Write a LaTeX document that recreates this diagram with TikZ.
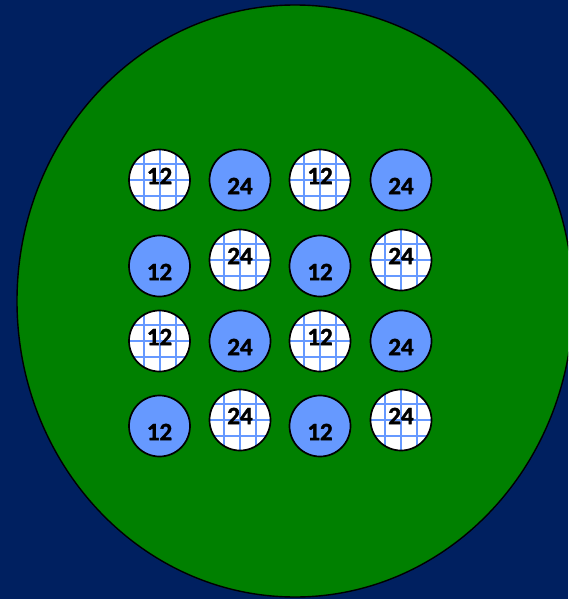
\documentclass[tikz,border=0pt]{standalone}
\usepackage{fontspec}
\setmainfont{Carlito}
\newfontfamily\pinfont{Carlito}[BoldFeatures={FakeBold=1.5}]
\usepackage{xcolor}
\definecolor{navy}{HTML}{002060}
\definecolor{field}{HTML}{008000}
\definecolor{pinblue}{HTML}{6699FF}

\begin{document}
\begin{tikzpicture}[
x=1pt,y=-1pt,
pin/.style={circle,draw=black,line width=1.7pt,minimum size=61pt,inner sep=0pt},
solidpin/.style={pin,fill=pinblue},
gridpin/.style={pin,fill=white,path picture={
  \foreach \d in {-32,-16,0,16,32}{
    \draw[pinblue,line width=2pt] ([xshift=\d pt,yshift=-40pt]path picture bounding box.center) -- ++(0,80pt);
    \draw[pinblue,line width=2pt] ([yshift=\d pt,xshift=-40pt]path picture bounding box.center) -- ++(80pt,0);
  }}},
num/.style={font=\pinfont\bfseries\fontsize{25}{25}\selectfont,text=black,inner sep=0pt}
]
\clip (0,0) rectangle (568,599);
\fill[navy] (0,0) rectangle (568,599);
\draw[fill=field,line width=1.4pt] (295,301) ellipse [x radius=278,y radius=296];

% row 1
\node[gridpin,label={[num,yshift=4pt]center:12}] (p11) at (159.5,180) {};
\node[solidpin,label={[num,yshift=-6pt]center:24}] (p12) at (240,180) {};
\node[gridpin,label={[num,yshift=4pt]center:12}] (p13) at (320,180) {};
\node[solidpin,label={[num,yshift=-6pt]center:24}] (p14) at (401,180) {};
% row 2
\node[solidpin,label={[num,yshift=-6pt]center:12}] (p21) at (159.5,266) {};
\node[gridpin,label={[num,yshift=4pt]center:24}] (p22) at (240,260) {};
\node[solidpin,label={[num,yshift=-6pt]center:12}] (p23) at (320,266) {};
\node[gridpin,label={[num,yshift=4pt]center:24}] (p24) at (401,260) {};
% row 3
\node[gridpin,label={[num,yshift=4pt]center:12}] (p31) at (159.5,341) {};
\node[solidpin,label={[num,yshift=-6pt]center:24}] (p32) at (240,341) {};
\node[gridpin,label={[num,yshift=4pt]center:12}] (p33) at (320,341) {};
\node[solidpin,label={[num,yshift=-6pt]center:24}] (p34) at (401,341) {};
% row 4
\node[solidpin,label={[num,yshift=-6pt]center:12}] (p41) at (159.5,426) {};
\node[gridpin,label={[num,yshift=4pt]center:24}] (p42) at (240,420) {};
\node[solidpin,label={[num,yshift=-6pt]center:12}] (p43) at (320,426) {};
\node[gridpin,label={[num,yshift=4pt]center:24}] (p44) at (401,420) {};
\end{tikzpicture}
\end{document}
